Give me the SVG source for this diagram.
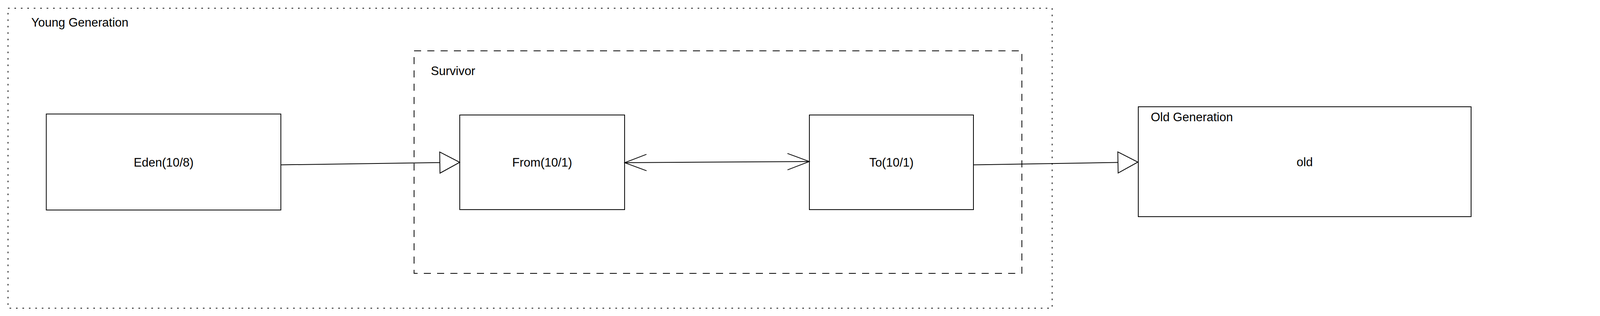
<svg xmlns="http://www.w3.org/2000/svg" width="4830" height="808" viewBox="0 0 4830 808">
<style>
.box{fill:#ffffff;stroke:#000000;stroke-width:2}
.dotted{fill:none;stroke:#000000;stroke-width:2;stroke-dasharray:4 12.5}
.dashed{fill:none;stroke:#000000;stroke-width:2;stroke-dasharray:18 16}
.lbl{font-family:"Liberation Sans",Arial,Helvetica,sans-serif;font-size:31px;fill:#000000}
.mid{text-anchor:middle}
.edge{fill:none;stroke:#000000;stroke-width:2}
</style>
<defs>
<marker id="block" markerUnits="userSpaceOnUse" markerWidth="56" markerHeight="60" refX="51" refY="27" orient="auto" viewBox="-2 -2 56 58">
<path d="M0,0 L51,27 L0,54 Z" fill="#ffffff" stroke="#000000" stroke-width="2"/>
</marker>
<marker id="open" markerUnits="userSpaceOnUse" markerWidth="60" markerHeight="48" refX="56" refY="21" orient="auto-start-reverse" viewBox="-2 -2 60 46">
<path d="M0,0 L56,21 L0,42" fill="none" stroke="#000000" stroke-width="2"/>
</marker>
</defs>
<rect x="0" y="0" width="4830" height="808" fill="#ffffff"/>
<g id="young-generation">
<rect class="dotted" x="20.5" y="21" width="2673" height="767"/>
<text class="lbl" x="80" y="68">Young Generation</text>
</g>
<g id="survivor">
<rect class="dashed" x="1060" y="130" width="1556" height="569"/>
<text class="lbl" x="1103" y="192">Survivor</text>
</g>
<g id="eden">
<rect class="box" x="118.5" y="291.5" width="600.5" height="245.5"/>
<text class="lbl mid" x="419" y="425.5">Eden(10/8)</text>
</g>
<g id="from">
<rect class="box" x="1177" y="294" width="422" height="242"/>
<text class="lbl mid" x="1388" y="426">From(10/1)</text>
</g>
<g id="to">
<rect class="box" x="2072" y="294" width="420" height="242"/>
<text class="lbl mid" x="2282" y="426">To(10/1)</text>
</g>
<g id="old-generation">
<rect class="box" x="2914" y="273" width="852" height="281"/>
<text class="lbl" x="2946" y="310">Old Generation</text>
<text class="lbl mid" x="3340" y="424.5">old</text>
</g>
<g id="metaspace">
<rect class="box" x="4128" y="277" width="682" height="265"/>
<text class="lbl mid" x="4469" y="420.5">MetaSpace</text>
</g>
<g id="connectors">
<path class="edge" d="M719,421.5 L1177,415" marker-end="url(#block)"/>
<path class="edge" d="M1599,416 L2072,413" marker-start="url(#open)" marker-end="url(#open)"/>
<path class="edge" d="M2492,421.5 L2913,414.5" marker-end="url(#block)"/>
</g>
</svg>
